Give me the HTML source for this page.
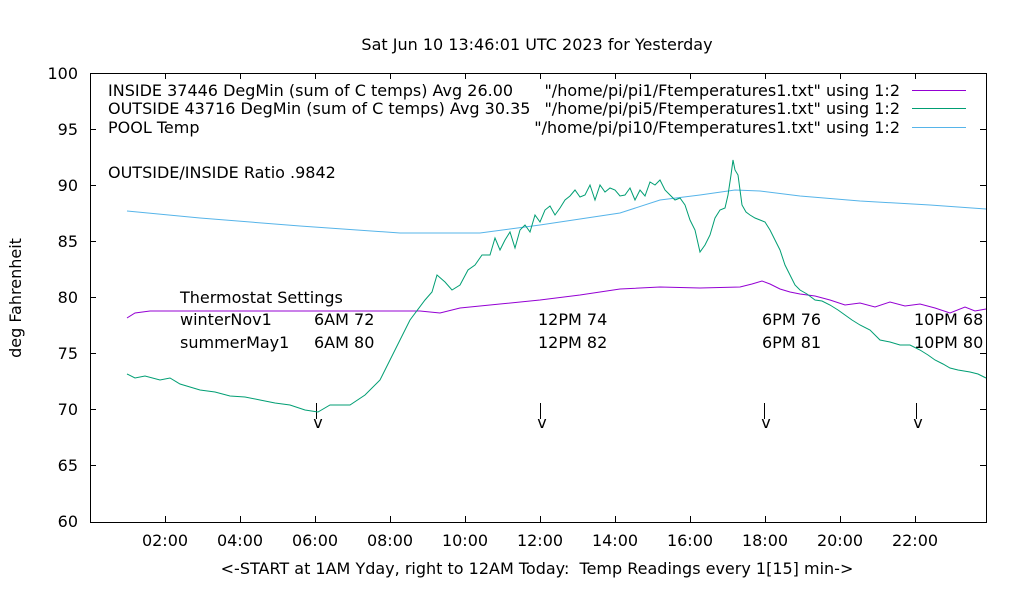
<!DOCTYPE html>
<html><head><meta charset="utf-8"><style>
body{margin:0;background:#fff}
svg text{font-family:"DejaVu Sans","Liberation Sans",sans-serif;font-size:16px;fill:#000}
</style></head><body>
<svg width="1020" height="600" viewBox="0 0 1020 600" xmlns="http://www.w3.org/2000/svg">
<rect width="1020" height="600" fill="#fff"/>
<text x="537" y="50" text-anchor="middle">Sat Jun 10 13:46:01 UTC 2023 for Yesterday</text>
<rect x="90.5" y="73.5" width="896" height="449" fill="none" stroke="#000" stroke-width="1"/>
<g stroke="#000" stroke-width="1">
<path d="M90 129.5h6M90 185.5h6M90 241.5h6M90 297.5h6M90 353.5h6M90 409.5h6M90 465.5h6
M986 129.5h-6M986 185.5h-6M986 241.5h-6M986 297.5h-6M986 353.5h-6M986 409.5h-6M986 465.5h-6
M165.5 522v-6M240.5 522v-6M315.5 522v-6M390.5 522v-6M465.5 522v-6M540.5 522v-6M615.5 522v-6M690.5 522v-6M765.5 522v-6M840.5 522v-6M915.5 522v-6
M165.5 73v6M240.5 73v6M315.5 73v6M390.5 73v6M465.5 73v6M540.5 73v6M615.5 73v6M690.5 73v6M765.5 73v6M840.5 73v6M915.5 73v6"/>
</g>
<g text-anchor="end">
<text x="78" y="79">100</text><text x="78" y="135">95</text><text x="78" y="191">90</text><text x="78" y="247">85</text>
<text x="78" y="303">80</text><text x="78" y="359">75</text><text x="78" y="415">70</text><text x="78" y="471">65</text><text x="78" y="527">60</text>
</g>
<g text-anchor="middle">
<text x="165" y="546">02:00</text><text x="240" y="546">04:00</text><text x="315" y="546">06:00</text><text x="390" y="546">08:00</text>
<text x="465" y="546">10:00</text><text x="540" y="546">12:00</text><text x="615" y="546">14:00</text><text x="690" y="546">16:00</text>
<text x="765" y="546">18:00</text><text x="840" y="546">20:00</text><text x="915" y="546">22:00</text>
<text x="537" y="574">&lt;-START at 1AM Yday, right to 12AM Today:&#160; Temp Readings every 1[15] min-&gt;</text>
</g>
<text transform="translate(21,298) rotate(-90)" text-anchor="middle">deg Fahrenheit</text>
<text x="108" y="96">INSIDE 37446 DegMin (sum of C temps) Avg 26.00</text>
<text x="108" y="114">OUTSIDE 43716 DegMin (sum of C temps) Avg 30.35</text>
<text x="108" y="133">POOL Temp</text>
<g text-anchor="end">
<text x="900" y="96">"/home/pi/pi1/Ftemperatures1.txt" using 1:2</text>
<text x="900" y="114">"/home/pi/pi5/Ftemperatures1.txt" using 1:2</text>
<text x="900" y="133">"/home/pi/pi10/Ftemperatures1.txt" using 1:2</text>
</g>
<path d="M912 90.5h54" stroke="#9400d3"/>
<path d="M912 108.5h54" stroke="#009e73"/>
<path d="M912 127.5h54" stroke="#56b4e9"/>
<text x="108" y="178">OUTSIDE/INSIDE Ratio .9842</text>
<text x="180" y="303">Thermostat Settings</text>
<text x="180" y="325">winterNov1</text><text x="180" y="348">summerMay1</text>
<text x="314" y="325">6AM 72</text><text x="314" y="348">6AM 80</text>
<text x="538" y="325">12PM 74</text><text x="538" y="348">12PM 82</text>
<text x="762" y="325">6PM 76</text><text x="762" y="348">6PM 81</text>
<text x="914" y="325">10PM 68</text><text x="914" y="348">10PM 80</text>
<g stroke="#000"><path d="M316.5 403v16M540.5 403v16M764.5 403v16M916.5 403v16"/></g>
<g text-anchor="middle"><text x="318" y="428">v</text><text x="542" y="428">v</text><text x="766" y="428">v</text><text x="918" y="428">v</text></g>
<polyline fill="none" stroke="#56b4e9" stroke-width="1" points="127,211 200,218 300,226 400,233 480,233 540,225 620,213 660,200 700,195 735,190 760,191 800,196 860,201 930,205 986,209"/>
<polyline fill="none" stroke="#9400d3" stroke-width="1" points="127,318 135,313 150,311 300,311 420,311 440,313 460,308 500,304 540,300 580,295 620,289 660,287 700,288 740,287 752,284 762,281 770,284 780,289 790,292 800,294 815,296 830,300 845,305 860,303 875,307 890,302 905,306 920,304 935,308 950,313 965,307 975,311 986,309"/>
<polyline fill="none" stroke="#009e73" stroke-width="1" points="127,374 135,378 145,376 160,380 170,378 180,384 200,390 215,392 230,396 245,397 260,400 275,403 290,405 305,410 318,412 330,405 350,405 365,395 380,380 395,350 410,320 425,300 432,292 437,275 445,282 452,290 460,285 468,270 475,265 482,255 490,255 495,238 500,250 505,240 510,232 515,248 520,230 525,225 530,232 535,215 540,222 545,210 550,206 555,215 560,208 565,200 570,196 575,190 580,197 585,195 590,185 595,200 600,185 605,192 610,188 615,190 620,196 625,195 630,188 635,200 640,190 645,196 650,182 655,185 660,180 665,190 670,195 675,200 680,198 685,205 690,220 695,230 700,252 705,245 710,235 715,218 720,210 725,208 728,195 731,175 733,160 735,170 738,175 740,190 742,205 746,212 750,215 755,218 760,220 765,222 770,230 775,240 780,250 785,265 790,275 795,285 800,290 807,294 815,300 822,301 830,305 838,310 845,315 852,320 860,325 870,330 880,340 890,342 900,345 910,345 920,350 928,355 935,360 943,364 950,368 958,370 970,372 978,374 986,378"/>
</svg>
</body></html>
